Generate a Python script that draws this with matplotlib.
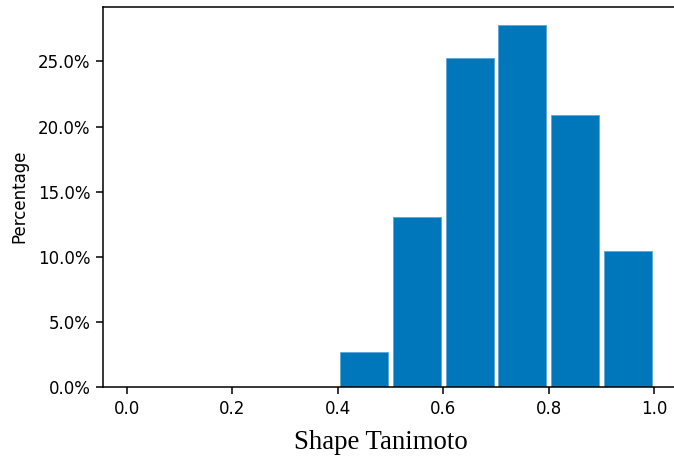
import numpy as np
import matplotlib
matplotlib.use("Agg")
import matplotlib.pyplot as plt
from matplotlib.ticker import PercentFormatter, MultipleLocator

# histogram of shape tanimoto similarity (percent of pairs per 0.1 bin)
bin_left = [0.4, 0.5, 0.6, 0.7, 0.8, 0.9]
percent = [2.65, 13.08, 25.26, 27.82, 20.85, 10.44]
x_ticks = [0.0, 0.2, 0.4, 0.6, 0.8, 1.0]

BAR_COLOR = '#0077bb'

plt.rcParams['font.family'] = ['DejaVu Sans']


def main():
    fig = plt.figure(figsize=(6.74, 4.62), dpi=100)
    # right spine sits just past the image edge in the original
    ax = fig.add_axes([0.1533, 0.1630, 0.8522, 0.8225])

    centers = np.array(bin_left) + 0.05
    ax.bar(centers, percent, width=0.091, color=BAR_COLOR,
           edgecolor='#5aa7d8', linewidth=0.6)

    ax.set_xlim(-0.0444, 1.0444)
    ax.set_ylim(0, max(percent) * 1.05)
    ax.set_xticks(x_ticks)
    ax.yaxis.set_major_locator(MultipleLocator(5))
    ax.yaxis.set_major_formatter(PercentFormatter(decimals=1))

    ax.tick_params(labelsize=12, length=4.7, width=1.1, pad=4.7)
    for sp in ax.spines.values():
        sp.set_linewidth(1.1)

    ax.set_ylabel('Percentage', fontsize=12)
    ax.yaxis.set_label_coords(-0.13, 0.5)

    fig.text(381 / 674, 1 - 449 / 462, 'Shape Tanimoto', ha='center',
             va='baseline', family='Liberation Serif', fontsize=19.3)

    fig.savefig('out.png', dpi=100)


if __name__ == "__main__":
    main()
